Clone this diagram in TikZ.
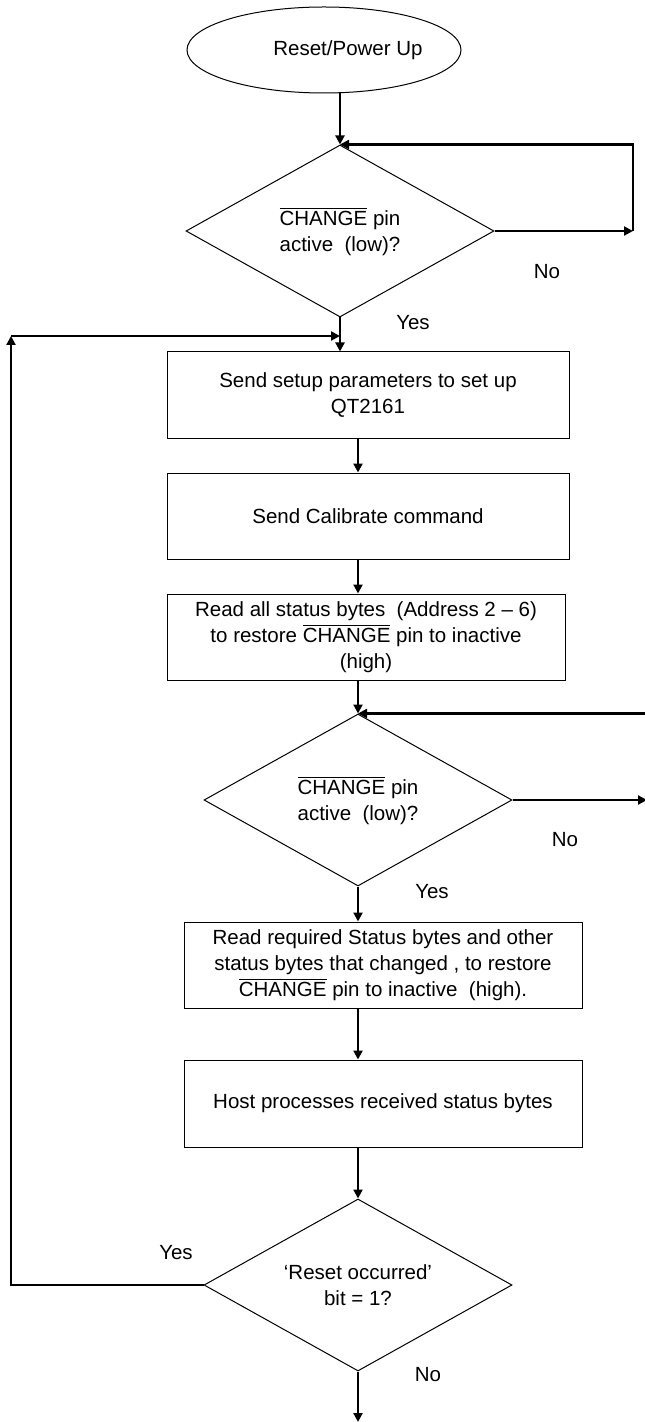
\documentclass[tikz,border=0pt]{standalone}
\usepackage{fontspec}
\setmainfont{Liberation Sans}
\usepackage{tikz}
\usetikzlibrary{positioning,shapes.geometric,arrows.meta}

\newcommand{\flowfont}{\fontsize{10.25}{13}\selectfont}
\newcommand{\pinbar}[1]{$\overline{\hbox{#1}}$}

\tikzset{
  flowbox/.style={draw, rectangle, align=center, font=\flowfont, line width=0.5pt, inner sep=0pt},
  decide/.style={draw, diamond, aspect=1.8, align=center, font=\flowfont, line width=0.5pt, inner sep=0pt,
                 minimum width=154pt, minimum height=86pt},
  terminal/.style={draw, ellipse, line width=0.5pt, minimum width=137pt, minimum height=43pt},
  note/.style={font=\flowfont, inner sep=0pt},
  link/.style={line width=1.1pt, -{Triangle[length=4.5pt,width=4.5pt]}},
}

\begin{document}
\begin{tikzpicture}[x=0.5pt,y=-0.5pt]
  \useasboundingbox (0,0) rectangle (644,1422);

  \node[terminal] (start) at (324,50) {};
  \node[note] (starttext) at (348,50) {Reset/Power Up};

  \node[decide] (d1) at (340,231) {\pinbar{CHANGE} pin\\active~ (low)?};
  \node[flowbox, minimum width=201pt, minimum height=43.5pt] (setup) at (368,395.5)
       {Send setup parameters to set up\\QT2161};
  \node[flowbox, minimum width=201pt, minimum height=43pt] (calib) at (368,516)
       {Send Calibrate command};
  \node[flowbox, minimum width=199pt, minimum height=43pt] (readall) at (366,637)
       {Read all status bytes~ (Address 2 -- 6)\\to restore \pinbar{CHANGE} pin to inactive\\(high)};
  \node[decide] (d2) at (358,800) {\pinbar{CHANGE} pin\\active~ (low)?};
  \node[flowbox, minimum width=199pt, minimum height=43pt] (readreq) at (383,965)
       {Read required Status bytes and other\\status bytes that changed , to restore\\\pinbar{CHANGE} pin to inactive~ (high).};
  \node[flowbox, minimum width=199pt, minimum height=43.5pt] (host) at (383,1103.5)
       {Host processes received status bytes};
  \node[decide] (d3) at (358,1285) {‘Reset occurred’\\bit = 1?};

  % answers
  \node[note] (no1) at (547,272) {No};
  \node[note] (yes1) at (413,323) {Yes};
  \node[note] (no2) at (565,840) {No};
  \node[note] (yes2) at (432,892) {Yes};
  \node[note] (yes3) at (176,1253) {Yes};
  \node[note] (no3) at (428,1375) {No};

  \coordinate (r1) at (633,231);
  \coordinate (r2) at (647,800);
  \coordinate (l1) at (11,336);
  \coordinate (join1) at (340,336);
  \coordinate (out) at (358,1422);

  \draw[link] (start.south -| d1.north) -- (d1.north);
  \draw[link] (d1.east) -- (r1);
  \draw[link] (r1) |- (d1.north);
  \draw[link] (d1.south) -- (d1.south |- setup.north);
  \draw[link] (setup.south -| d2.north) -- (calib.north -| d2.north);
  \draw[link] (calib.south -| d2.north) -- (readall.north -| d2.north);
  \draw[link] (readall.south -| d2.north) -- (d2.north);
  \draw[link] (d2.east) -- (r2);
  \draw[link] (r2) |- (d2.north);
  \draw[link] (d2.south) -- (d2.south |- readreq.north);
  \draw[link] (readreq.south -| d2.north) -- (host.north -| d2.north);
  \draw[link] (host.south -| d3.north) -- (d3.north);
  \draw[link] (d3.south) -- (out);
  \draw[link] (d3.west) -| (l1);
  \draw[link] (l1) -- (join1);
\end{tikzpicture}
\end{document}
